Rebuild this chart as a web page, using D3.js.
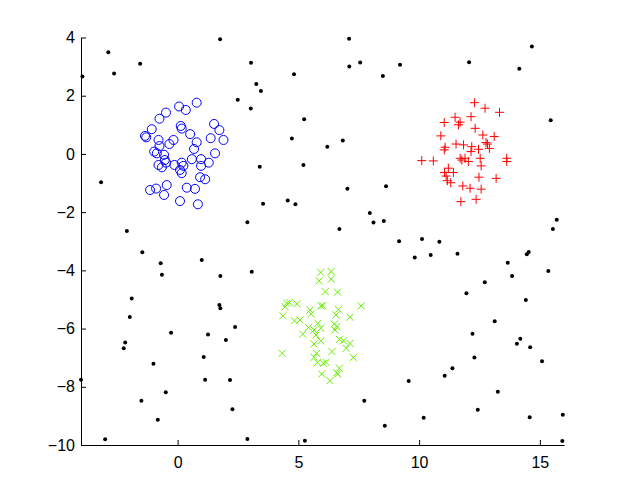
<!DOCTYPE html>
<html>
<head>
<meta charset="utf-8">
<script src="https://cdn.jsdelivr.net/npm/d3@7"></script>
<style>
  body { margin: 0; background: #fff; }
  svg { display: block; }
</style>
</head>
<body>
<svg id="chart" width="623" height="500"></svg>
<script>

// background noise points (black dots)
var noisePts = [
  [1.76, 3.94], [-2.87, 3.49], [-1.55, 3.10], [-2.63, 2.76], [-3.94, 2.66], [2.49, 1.86],
  [7.10, 3.96], [3.04, 3.13], [4.82, 2.74], [7.11, 3.00], [7.56, 3.14], [9.21, 3.06],
  [8.50, 2.68], [3.26, 2.40], [3.45, 2.16], [3.03, 1.56], [5.24, 1.19], [4.73, 0.53],
  [6.84, 0.46], [6.20, 0.25], [3.40, -0.44], [5.21, -0.38], [12.07, 3.15], [14.67, 3.69],
  [14.15, 2.93], [15.45, 1.16], [-3.17, -0.97], [-2.10, -2.65], [-1.46, -3.38], [-0.70, -3.76],
  [1.00, -3.64], [-0.65, -4.15], [1.77, -4.19], [-1.90, -4.97], [1.73, -5.19], [7.03, -1.20],
  [8.63, -1.11], [3.54, -1.71], [4.56, -1.60], [4.88, -1.73], [2.89, -2.35], [7.96, -2.03],
  [8.11, -2.36], [8.54, -2.30], [6.70, -2.58], [9.17, -3.00], [3.07, -4.05], [15.70, -2.26],
  [15.54, -2.58], [10.12, -2.92], [10.84, -3.02], [9.82, -3.56], [10.48, -3.47], [11.59, -3.43],
  [14.54, -3.37], [14.46, -3.45], [13.67, -3.74], [13.85, -4.19], [15.35, -4.02], [12.72, -4.41],
  [11.96, -4.79], [14.42, -5.02], [-1.98, -5.60], [1.77, -5.30], [2.38, -5.95], [-0.27, -6.14],
  [1.26, -6.20], [2.00, -6.39], [-2.17, -6.48], [-2.23, -6.68], [-1.00, -7.21], [1.08, -6.98],
  [-4.00, -7.76], [1.14, -7.76], [2.17, -7.77], [-0.49, -8.19], [-1.50, -8.48], [2.27, -8.77],
  [-0.82, -9.13], [-3.00, -9.80], [9.57, -7.80], [7.73, -8.48], [8.58, -9.34], [2.89, -9.79],
  [5.27, -9.85], [13.13, -5.75], [12.21, -6.18], [14.19, -6.35], [14.05, -6.52], [14.60, -6.64],
  [12.29, -6.99], [11.38, -7.36], [11.06, -7.62], [15.09, -7.12], [13.26, -8.17], [12.43, -8.79],
  [10.19, -9.06], [14.58, -9.05], [15.95, -8.96], [15.93, -9.86]
];

// cluster around (0, 0) - blue circles
var bluePts = [
  [0.79, 1.76], [0.06, 1.63], [0.34, 1.51], [-0.48, 1.42], [-0.75, 1.21], [-1.07, 0.85],
  [-1.35, 0.62], [-1.30, 0.57], [0.13, 0.96], [0.17, 0.87], [0.52, 0.68], [1.51, 1.03],
  [1.73, 0.82], [1.37, 0.54], [1.90, 0.48], [-0.79, 0.48], [-0.17, 0.48], [-0.34, 0.34],
  [-0.75, 0.27], [0.79, 0.40], [0.68, 0.17], [1.55, 0.02], [-0.97, 0.08], [-0.86, 0.02],
  [-0.56, -0.03], [-0.53, -0.21], [0.59, -0.18], [0.97, -0.18], [1.29, -0.30], [-0.79, -0.38],
  [-0.65, -0.46], [-0.13, -0.38], [0.17, -0.30], [0.24, -0.41], [0.97, -0.41], [0.10, -0.55],
  [0.17, -0.66], [0.93, -0.80], [1.14, -0.87], [-0.45, -1.07], [-1.14, -1.24], [-0.89, -1.19],
  [-0.56, -1.41], [0.38, -1.16], [0.72, -1.20], [0.10, -1.62], [0.84, -1.73], [-0.48, -0.30]
];

// cluster around (12, 0) - red pluses
var redPts = [
  [12.29, 1.76], [12.73, 1.57], [13.33, 1.43], [11.49, 1.26], [12.15, 1.28], [11.04, 1.08],
  [11.70, 1.09], [11.63, 1.00], [12.32, 0.88], [10.90, 0.62], [12.64, 0.65], [13.11, 0.60],
  [12.77, 0.39], [12.83, 0.34], [11.53, 0.34], [11.08, 0.23], [11.04, 0.14], [11.84, 0.31],
  [12.18, 0.25], [12.15, 0.08], [12.46, 0.16], [12.91, 0.19], [10.11, -0.23], [10.59, -0.24],
  [11.70, -0.15], [11.77, -0.21], [12.04, -0.26], [12.53, -0.15], [12.57, -0.41], [13.63, -0.15],
  [13.63, -0.26], [11.21, -0.49], [11.05, -0.64], [11.42, -0.64], [11.12, -0.76], [12.48, -0.80],
  [13.19, -0.84], [11.17, -0.92], [11.31, -0.99], [11.81, -1.10], [12.11, -1.18], [12.57, -1.21],
  [12.36, -1.56], [11.73, -1.64], [11.90, -0.15]
];

// cluster around (6, -6) - green crosses
var greenPts = [
  [5.93, -4.07], [6.36, -4.04], [5.86, -4.36], [6.36, -4.30], [6.11, -4.73], [6.62, -4.75],
  [4.52, -5.13], [4.63, -5.11], [4.45, -5.25], [4.94, -5.15], [5.49, -5.36], [5.53, -5.50],
  [5.94, -5.22], [6.01, -5.22], [6.66, -5.34], [6.56, -5.53], [7.60, -5.22], [7.14, -5.61],
  [4.36, -5.56], [4.84, -5.73], [5.07, -5.70], [5.42, -5.96], [5.81, -5.82], [5.93, -5.99],
  [5.65, -6.05], [5.18, -6.19], [5.73, -6.22], [6.49, -5.84], [6.59, -5.93], [6.52, -6.05],
  [6.70, -6.37], [6.87, -6.42], [7.14, -6.51], [5.93, -6.42], [5.65, -6.53], [6.98, -6.68],
  [4.33, -6.85], [6.39, -6.79], [5.76, -6.85], [5.65, -6.99], [7.28, -6.99], [5.79, -7.17],
  [6.04, -7.19], [6.15, -7.16], [6.70, -7.36], [6.59, -7.52], [6.63, -7.56], [5.97, -7.56],
  [6.31, -7.79]
];

var xTicks = [0, 5, 10, 15];
var yTicks = [-10, -8, -6, -4, -2, 0, 2, 4];

var svg = d3.select("svg#chart"),
    W = +svg.attr("width"),
    H = +svg.attr("height"),
    margin = {left: 81, right: 59, top: 37.5, bottom: 55};

var x = d3.scaleLinear()
    .domain([-4, 16])
    .range([margin.left, W - margin.right]);

var y = d3.scaleLinear()
    .domain([-10, 4])
    .range([H - margin.bottom, margin.top]);

var fontFam = "'Liberation Sans', Arial, Helvetica, sans-serif";

// axes, ticks pointing inward like matlab
var gx = svg.append("g")
    .attr("transform", "translate(0," + (H - margin.bottom) + ")")
    .call(d3.axisBottom(x)
        .tickValues(xTicks)
        .tickSizeInner(-5)
        .tickSizeOuter(0)
        .tickPadding(12)
        .tickFormat(function(d) { return d3.format("d")(d).replace("-", "\u2212"); }));

var gy = svg.append("g")
    .attr("transform", "translate(" + margin.left + ",0)")
    .call(d3.axisLeft(y)
        .tickValues(yTicks)
        .tickSizeInner(-5)
        .tickSizeOuter(0)
        .tickPadding(6)
        .tickFormat(function(d) { return d3.format("d")(d).replace("-", "\u2212"); }));

svg.selectAll(".domain, .tick line")
    .attr("stroke", "#000")
    .attr("stroke-width", 1);

svg.selectAll(".tick text")
    .attr("font-family", fontFam)
    .attr("font-size", "16px")
    .attr("fill", "#000");

// noise
svg.append("g")
  .selectAll("circle")
  .data(noisePts)
  .enter().append("circle")
    .attr("cx", function(d) { return x(d[0]); })
    .attr("cy", function(d) { return y(d[1]); })
    .attr("r", 2)
    .attr("fill", "#000");

// blue circles
svg.append("g")
  .selectAll("circle")
  .data(bluePts)
  .enter().append("circle")
    .attr("cx", function(d) { return x(d[0]); })
    .attr("cy", function(d) { return y(d[1]); })
    .attr("r", 4.5)
    .attr("fill", "none")
    .attr("stroke", "#0000ff")
    .attr("stroke-width", 1);

// red plus
var p = 4.5;
svg.append("g")
  .selectAll("path")
  .data(redPts)
  .enter().append("path")
    .attr("d", function(d) {
      var cx = x(d[0]), cy = y(d[1]);
      return "M" + (cx - p) + "," + cy + "H" + (cx + p) + "M" + cx + "," + (cy - p) + "V" + (cy + p);
    })
    .attr("fill", "none")
    .attr("stroke", "#ff0000")
    .attr("stroke-width", 1);

// green x
var q = 3.5;
svg.append("g")
  .selectAll("path")
  .data(greenPts)
  .enter().append("path")
    .attr("d", function(d) {
      var cx = x(d[0]), cy = y(d[1]);
      return "M" + (cx - q) + "," + (cy - q) + "L" + (cx + q) + "," + (cy + q) +
             "M" + (cx - q) + "," + (cy + q) + "L" + (cx + q) + "," + (cy - q);
    })
    .attr("fill", "none")
    .attr("stroke", "#66ee00")
    .attr("stroke-width", 1);

</script>
</body>
</html>
